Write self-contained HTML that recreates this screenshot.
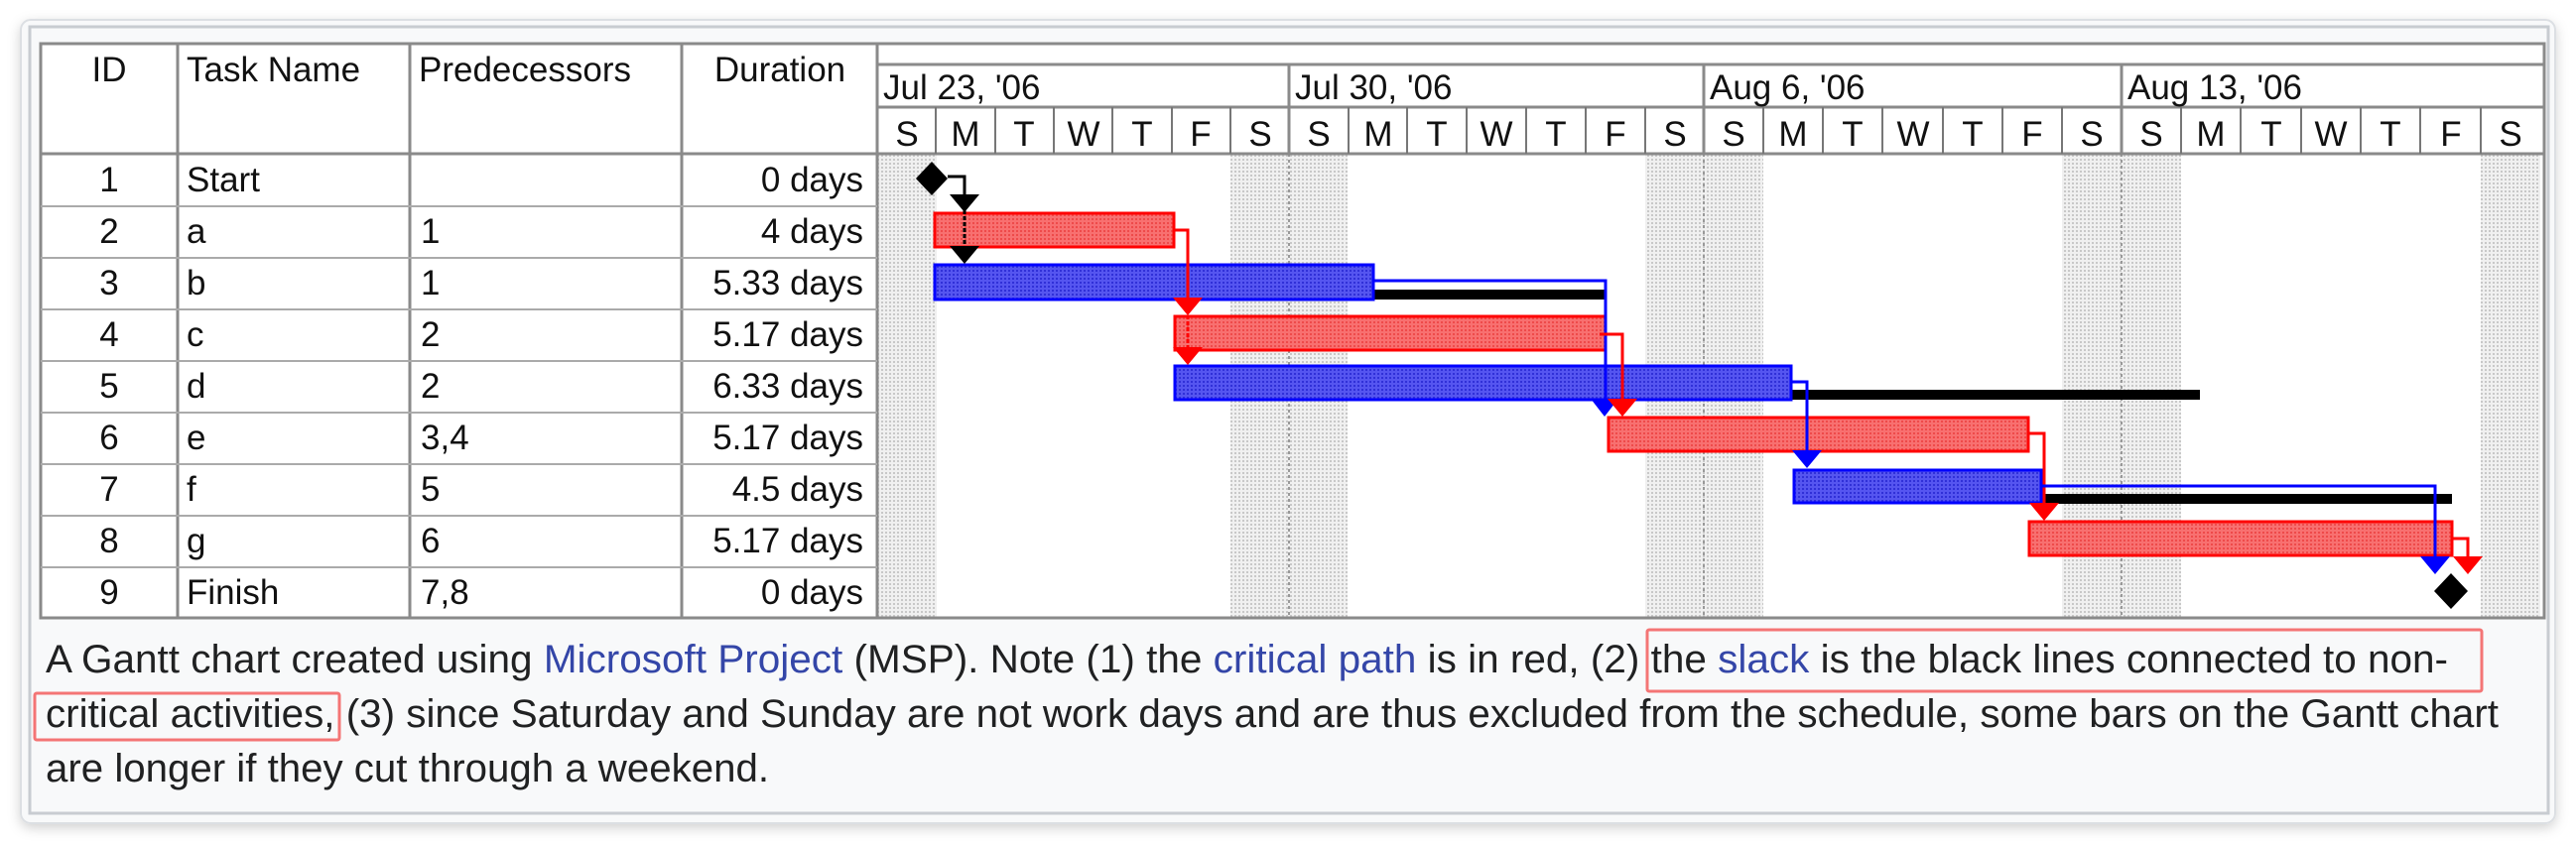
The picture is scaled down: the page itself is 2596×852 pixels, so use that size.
<!DOCTYPE html>
<html><head><meta charset="utf-8"><style>
html,body{margin:0;padding:0;background:#fff;width:2596px;height:852px;overflow:hidden}
svg{display:block}
.t{font-family:"Liberation Sans",Arial,sans-serif;font-size:35px;fill:#111}
.c{font-family:"Liberation Sans",Arial,sans-serif;font-size:40px;fill:#202122}
.l{fill:#3446a8}
</style></head><body>
<svg width="2596" height="852" viewBox="0 0 2596 852" xmlns="http://www.w3.org/2000/svg">
<defs>
<filter id="sh" x="-5%" y="-5%" width="110%" height="120%"><feDropShadow dx="0" dy="4" stdDeviation="6" flood-color="#000" flood-opacity="0.18"/></filter>
<pattern id="dots" width="4" height="4" patternUnits="userSpaceOnUse"><rect width="4" height="4" fill="#f0f0f0"/><rect width="2" height="2" fill="#c8c8c8"/></pattern>
<pattern id="rp" width="4" height="4" patternUnits="userSpaceOnUse"><rect width="4" height="4" fill="#f87070"/><rect width="2" height="2" fill="#ee4a4a"/></pattern>
<pattern id="bp" width="4" height="4" patternUnits="userSpaceOnUse"><rect width="4" height="4" fill="#5555f0"/><rect width="2" height="2" fill="#3030d8"/></pattern>
</defs>
<!-- card -->
<rect x="21" y="20" width="2554" height="810" rx="10" fill="#f8f9fa" stroke="#dcdfe3" stroke-width="2" filter="url(#sh)"/>
<rect x="30" y="27" width="2538" height="793" fill="#f8f9fa" stroke="#c8ccd1" stroke-width="3"/>
<!-- table area -->
<rect x="41" y="43" width="2525" height="581" fill="#fff"/>
<!-- weekend shading -->
<g fill="url(#dots)">
<rect x="885" y="155" width="59" height="468"/>
<rect x="1240" y="155" width="118" height="468"/>
<rect x="1658" y="155" width="119" height="468"/>
<rect x="2078" y="155" width="120" height="468"/>
<rect x="2500" y="155" width="60" height="468"/>
</g>
<g stroke="#999" stroke-width="2" stroke-dasharray="3,3">
<line x1="1299" y1="155" x2="1299" y2="623"/><line x1="1717" y1="155" x2="1717" y2="623"/><line x1="2138" y1="155" x2="2138" y2="623"/>
</g>
<!-- grid -->
<g stroke="#8a8a8a" stroke-width="3" fill="none">
<rect x="41" y="44" width="2523" height="579"/>
<line x1="179" y1="44" x2="179" y2="623"/>
<line x1="413" y1="44" x2="413" y2="623"/>
<line x1="687" y1="44" x2="687" y2="623"/>
<line x1="884" y1="44" x2="884" y2="623"/>
<line x1="41" y1="155" x2="2564" y2="155"/>
<line x1="884" y1="65" x2="2564" y2="65"/>
<line x1="884" y1="108" x2="2564" y2="108"/>
<line x1="1299" y1="65" x2="1299" y2="155"/><line x1="1717" y1="65" x2="1717" y2="155"/><line x1="2138" y1="65" x2="2138" y2="155"/>
</g>
<g stroke="#aaa" stroke-width="2">
<line x1="41" y1="208" x2="884" y2="208"/><line x1="41" y1="260" x2="884" y2="260"/><line x1="41" y1="312" x2="884" y2="312"/><line x1="41" y1="364" x2="884" y2="364"/><line x1="41" y1="416" x2="884" y2="416"/><line x1="41" y1="468" x2="884" y2="468"/><line x1="41" y1="520" x2="884" y2="520"/><line x1="41" y1="572" x2="884" y2="572"/>
</g>
<g stroke="#777" stroke-width="2">
<line x1="943" y1="108" x2="943" y2="155"/><line x1="1003" y1="108" x2="1003" y2="155"/><line x1="1062" y1="108" x2="1062" y2="155"/><line x1="1121" y1="108" x2="1121" y2="155"/><line x1="1181" y1="108" x2="1181" y2="155"/><line x1="1240" y1="108" x2="1240" y2="155"/>
<line x1="1359" y1="108" x2="1359" y2="155"/><line x1="1418" y1="108" x2="1418" y2="155"/><line x1="1478" y1="108" x2="1478" y2="155"/><line x1="1538" y1="108" x2="1538" y2="155"/><line x1="1598" y1="108" x2="1598" y2="155"/><line x1="1658" y1="108" x2="1658" y2="155"/>
<line x1="1777" y1="108" x2="1777" y2="155"/><line x1="1837" y1="108" x2="1837" y2="155"/><line x1="1897" y1="108" x2="1897" y2="155"/><line x1="1958" y1="108" x2="1958" y2="155"/><line x1="2018" y1="108" x2="2018" y2="155"/><line x1="2078" y1="108" x2="2078" y2="155"/>
<line x1="2198" y1="108" x2="2198" y2="155"/><line x1="2258" y1="108" x2="2258" y2="155"/><line x1="2319" y1="108" x2="2319" y2="155"/><line x1="2379" y1="108" x2="2379" y2="155"/><line x1="2439" y1="108" x2="2439" y2="155"/><line x1="2500" y1="108" x2="2500" y2="155"/>
</g>
<!-- header text -->
<g class="t">
<text x="110" y="82" text-anchor="middle" class="t">ID</text>
<text x="188" y="82" class="t">Task Name</text>
<text x="422" y="82" class="t">Predecessors</text>
<text x="786" y="82" text-anchor="middle" class="t">Duration</text>
<text x="890" y="100" class="t">Jul 23, '06</text>
<text x="1305" y="100" class="t">Jul 30, '06</text>
<text x="1723" y="100" class="t">Aug 6, '06</text>
<text x="2144" y="100" class="t">Aug 13, '06</text>
</g>
<g class="t" text-anchor="middle">
<text x="914" y="147">S</text><text x="973" y="147">M</text><text x="1032" y="147">T</text><text x="1092" y="147">W</text><text x="1151" y="147">T</text><text x="1210" y="147">F</text><text x="1270" y="147">S</text>
<text x="1329" y="147">S</text><text x="1389" y="147">M</text><text x="1448" y="147">T</text><text x="1508" y="147">W</text><text x="1568" y="147">T</text><text x="1628" y="147">F</text><text x="1688" y="147">S</text>
<text x="1747" y="147">S</text><text x="1807" y="147">M</text><text x="1867" y="147">T</text><text x="1928" y="147">W</text><text x="1988" y="147">T</text><text x="2048" y="147">F</text><text x="2108" y="147">S</text>
<text x="2168" y="147">S</text><text x="2228" y="147">M</text><text x="2289" y="147">T</text><text x="2349" y="147">W</text><text x="2409" y="147">T</text><text x="2470" y="147">F</text><text x="2530" y="147">S</text>
</g>
<!-- rows -->
<g class="t">
<text x="110" y="193" text-anchor="middle">1</text><text x="188" y="193">Start</text><text x="870" y="193" text-anchor="end">0 days</text>
<text x="110" y="245" text-anchor="middle">2</text><text x="188" y="245">a</text><text x="424" y="245">1</text><text x="870" y="245" text-anchor="end">4 days</text>
<text x="110" y="297" text-anchor="middle">3</text><text x="188" y="297">b</text><text x="424" y="297">1</text><text x="870" y="297" text-anchor="end">5.33 days</text>
<text x="110" y="349" text-anchor="middle">4</text><text x="188" y="349">c</text><text x="424" y="349">2</text><text x="870" y="349" text-anchor="end">5.17 days</text>
<text x="110" y="401" text-anchor="middle">5</text><text x="188" y="401">d</text><text x="424" y="401">2</text><text x="870" y="401" text-anchor="end">6.33 days</text>
<text x="110" y="453" text-anchor="middle">6</text><text x="188" y="453">e</text><text x="424" y="453">3,4</text><text x="870" y="453" text-anchor="end">5.17 days</text>
<text x="110" y="505" text-anchor="middle">7</text><text x="188" y="505">f</text><text x="424" y="505">5</text><text x="870" y="505" text-anchor="end">4.5 days</text>
<text x="110" y="557" text-anchor="middle">8</text><text x="188" y="557">g</text><text x="424" y="557">6</text><text x="870" y="557" text-anchor="end">5.17 days</text>
<text x="110" y="609" text-anchor="middle">9</text><text x="188" y="609">Finish</text><text x="424" y="609">7,8</text><text x="870" y="609" text-anchor="end">0 days</text>
</g>
<!-- slack lines -->
<g fill="#000">
<rect x="1384" y="292" width="234" height="10"/>
<rect x="1805" y="393" width="412" height="10"/>
<rect x="2057" y="498" width="414" height="10"/>
</g>
<!-- bars -->
<g stroke-width="3">
<rect x="942" y="215" width="241" height="34" fill="url(#rp)" stroke="#f00"/>
<rect x="942" y="267" width="442" height="35" fill="url(#bp)" stroke="#00f"/>
<rect x="1184" y="319" width="434" height="34" fill="url(#rp)" stroke="#f00"/>
<rect x="1184" y="369" width="621" height="34" fill="url(#bp)" stroke="#00f"/>
<rect x="1621" y="421" width="423" height="34" fill="url(#rp)" stroke="#f00"/>
<rect x="1808" y="474" width="249" height="33" fill="url(#bp)" stroke="#00f"/>
<rect x="2045" y="526" width="426" height="34" fill="url(#rp)" stroke="#f00"/>
</g>
<!-- connectors -->
<g fill="none" stroke-width="3">
<polyline points="955,178 972,178 972,200" stroke="#000"/>
<line x1="972" y1="212" x2="972" y2="252" stroke="#000" stroke-dasharray="4,2"/>
<polyline points="1183,232 1197,232 1197,305" stroke="#f00"/>
<line x1="1197" y1="318" x2="1197" y2="355" stroke="#f00" stroke-dasharray="4,2"/>
<polyline points="1384,283 1618,283 1618,408" stroke="#00f"/>
<polyline points="1612,337 1635,337 1635,408" stroke="#f00"/>
<polyline points="1805,385 1821,385 1821,460" stroke="#00f"/>
<polyline points="2044,437 2060,437 2060,512" stroke="#f00"/>
<polyline points="2057,490 2454,490 2454,565" stroke="#00f"/>
<polyline points="2471,543 2487,543 2487,565" stroke="#f00"/>
</g>
<g>
<polygon points="957,196 987,196 972,214" fill="#000"/>
<polygon points="957,248 987,248 972,266" fill="#000"/>
<polygon points="1182,300 1212,300 1197,318" fill="#f00"/>
<polygon points="1182,350 1212,350 1197,368" fill="#f00"/>
<polygon points="1603,402 1631,402 1617,420" fill="#00f"/>
<polygon points="1620,402 1650,402 1635,420" fill="#f00"/>
<polygon points="1806,454 1836,454 1821,472" fill="#00f"/>
<polygon points="2045,507 2075,507 2060,525" fill="#f00"/>
<polygon points="2439,561 2469,561 2454,579" fill="#00f"/>
<polygon points="2472,561 2502,561 2487,579" fill="#f00"/>
<polygon points="939,163 955,180 939,197 923,180" fill="#000"/>
<polygon points="2470,578 2487,596 2470,614 2453,596" fill="#000"/>
</g>
<!-- caption -->
<text class="c" x="46" y="678" textLength="2421" lengthAdjust="spacingAndGlyphs">A Gantt chart created using <tspan class="l">Microsoft Project</tspan> (MSP). Note (1) the <tspan class="l">critical path</tspan> is in red, (2) the <tspan class="l">slack</tspan> is the black lines connected to non-</text>
<text class="c" x="46" y="733" textLength="2472" lengthAdjust="spacingAndGlyphs">critical activities, (3) since Saturday and Sunday are not work days and are thus excluded from the schedule, some bars on the Gantt chart</text>
<text class="c" x="46" y="788" textLength="729" lengthAdjust="spacingAndGlyphs">are longer if they cut through a weekend.</text>
<g fill="none" stroke="#f47575" stroke-width="3">
<rect x="1660" y="635" width="841" height="62" rx="2"/>
<rect x="35" y="699" width="307" height="47" rx="2"/>
</g>
</svg>
</body></html>
